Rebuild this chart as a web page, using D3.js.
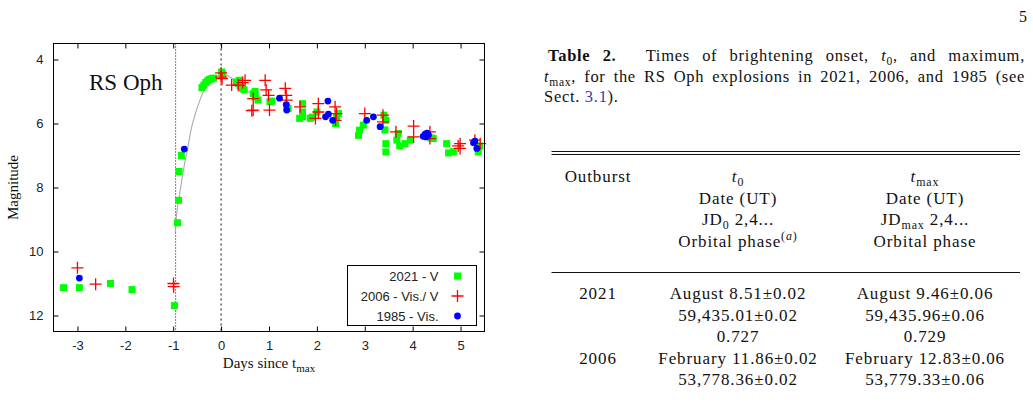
<!DOCTYPE html>
<html>
<head>
<meta charset="utf-8">
<script src="https://cdn.jsdelivr.net/npm/d3@7"></script>
<style>
  body { margin: 0; background: #fff; }
  svg { display: block; }
  .tick text { font-family: "Liberation Sans", Arial, sans-serif; font-size: 13px; fill: #222; }
  .sans { font-family: "Liberation Sans", Arial, sans-serif; }
  .serif { font-family: "Liberation Serif", "Times New Roman", serif; }
</style>
</head>
<body>
<svg id="page" width="1033" height="405"></svg>
<script>
// light curves: [days since t_max, magnitude]
const outburst2021 = [
  [-3.29, 11.13], [-2.96, 11.13], [-2.31, 11.0], [-1.86, 11.19], [-0.975, 11.69],
  [-0.91, 9.1], [-0.89, 8.4], [-0.88, 7.5], [-0.83, 7.0],
  [-0.4, 4.88], [-0.36, 4.8], [-0.32, 4.72], [-0.28, 4.66], [-0.24, 4.62], [-0.2, 4.6], [-0.16, 4.58],
  [0.01, 4.39], [0.03, 4.45],
  [0.32, 4.7], [0.36, 4.75], [0.38, 4.65], [0.4, 4.82], [0.44, 4.9], [0.48, 4.95],
  [0.67, 5.06], [0.71, 5.0], [0.71, 5.17], [0.77, 5.27],
  [1.02, 5.32], [1.06, 5.3], [1.37, 5.48], [1.4, 5.53],
  [1.7, 5.38], [1.7, 5.64], [1.64, 5.84], [1.7, 5.79], [1.86, 5.84], [1.9, 5.8], [2.0, 5.64],
  [2.41, 5.79], [2.39, 6.0], [2.45, 5.69],
  [2.87, 6.37], [2.89, 6.21], [2.97, 6.05],
  [3.4, 5.74], [3.44, 5.9], [3.42, 6.2], [3.44, 6.63], [3.44, 6.89],
  [3.67, 6.52], [3.7, 6.31], [3.73, 6.7], [3.84, 6.63], [3.95, 6.52],
  [4.38, 6.45], [4.43, 6.47],
  [4.71, 6.63], [4.75, 6.92], [4.85, 6.88],
  [5.37, 6.89], [5.4, 6.7]
];
const outburst2006 = [
  [-3.0, 10.51], [-2.62, 11.02], [-0.995, 11.0], [-0.99, 11.1],
  [0.0, 4.42], [0.0, 4.55], [0.02, 4.6],
  [0.22, 4.8], [0.36, 4.8], [0.45, 4.72], [0.5, 4.65],
  [0.67, 5.22], [0.67, 5.58], [0.64, 5.6],
  [0.92, 4.65], [0.94, 4.95], [0.99, 5.12], [1.01, 5.58],
  [1.34, 4.9], [1.36, 5.12], [1.37, 5.27],
  [1.65, 5.48],
  [2.03, 5.38], [2.03, 5.64], [1.97, 5.84],
  [2.38, 5.48], [2.41, 5.69], [2.39, 5.9],
  [3.0, 5.69], [3.38, 5.74], [3.38, 5.95], [3.65, 6.26],
  [4.02, 6.08], [4.02, 6.42], [4.36, 6.26], [4.36, 6.47],
  [4.95, 6.7], [4.99, 6.63], [4.99, 6.78], [5.3, 6.52], [5.41, 6.63]
];
const outburst1985 = [
  [-2.96, 10.83], [-0.77, 6.8],
  [1.22, 5.21], [1.36, 5.41], [1.37, 5.58],
  [2.23, 5.3], [2.24, 5.71], [2.18, 5.79], [2.33, 5.9],
  [3.04, 5.9], [3.18, 5.79], [3.32, 6.1],
  [4.22, 6.4], [4.26, 6.33], [4.3, 6.3], [4.28, 6.42], [4.33, 6.36],
  [5.27, 6.6], [5.3, 6.55], [5.34, 6.78]
];
// grey fit of the 2021 rise
const fitCurve = [
  [-0.955, 9.4], [-0.945, 9.13], [-0.88, 8.35], [-0.81, 7.67], [-0.75, 7.15], [-0.7, 6.8],
  [-0.63, 6.21], [-0.55, 5.75], [-0.45, 5.3], [-0.37, 5.0], [-0.28, 4.78], [-0.18, 4.6],
  [-0.08, 4.5], [0.0, 4.46], [0.1, 4.48], [0.2, 4.56], [0.3, 4.68], [0.4, 4.8],
  [0.5, 4.93], [0.6, 5.05], [0.7, 5.16], [0.78, 5.25]
];
const onsetDay = -0.95;
const maxDay = 0;
const dayTicks = [-3, -2, -1, 0, 1, 2, 3, 4, 5];
const magTicks = [4, 6, 8, 10, 12];
const legendLabels = ["2021 - V", "2006 - Vis./ V", "1985 - Vis."];

// table 2
const outburstYears = ["2021", "2006"];
const onsetDates = ["August 8.51±0.02", "February 11.86±0.02"];
const onsetJDs = ["59,435.01±0.02", "53,778.36±0.02"];
const onsetPhases = ["0.727"];
const maxDates = ["August 9.46±0.06", "February 12.83±0.06"];
const maxJDs = ["59,435.96±0.06", "53,779.33±0.06"];
const maxPhases = ["0.729"];

const svg = d3.select("#page");
svg.append("rect").attr("width", 1033).attr("height", 405).attr("fill", "#fff");

// ---------- chart ----------
const x = d3.scaleLinear().domain([-3.5, 5.5]).range([53.5, 484.5]);
const y = d3.scaleLinear().domain([3.5, 12.5]).range([43.5, 331.5]);
const plot = svg.append("g");

plot.append("line")
  .attr("x1", x(onsetDay)).attr("x2", x(onsetDay))
  .attr("y1", y(3.5)).attr("y2", y(12.5))
  .attr("stroke", "#000").attr("stroke-width", 1).attr("stroke-dasharray", "1,2");
plot.append("line")
  .attr("x1", x(maxDay)).attr("x2", x(maxDay))
  .attr("y1", y(3.5)).attr("y2", y(12.5))
  .attr("stroke", "#666").attr("stroke-width", 1.6).attr("stroke-dasharray", "2,3");

plot.append("path")
  .datum(fitCurve)
  .attr("d", d3.line().x(d => x(d[0])).y(d => y(d[1])).curve(d3.curveMonotoneX))
  .attr("fill", "none").attr("stroke", "#aaa").attr("stroke-width", 1.1);

plot.selectAll("rect.v2021")
  .data(outburst2021)
  .enter().append("rect")
  .attr("class", "v2021")
  .attr("x", d => x(d[0]) - 3.5).attr("y", d => y(d[1]) - 3.5)
  .attr("width", 7).attr("height", 7)
  .attr("fill", "#00ff00");

const plus = "M-6,0H6M0,-6V6";
plot.selectAll("path.v2006")
  .data(outburst2006)
  .enter().append("path")
  .attr("class", "v2006")
  .attr("d", plus)
  .attr("transform", d => `translate(${x(d[0])},${y(d[1])})`)
  .attr("stroke", "#ff0000").attr("stroke-width", 1.3).attr("fill", "none");

plot.selectAll("circle.v1985")
  .data(outburst1985)
  .enter().append("circle")
  .attr("class", "v1985")
  .attr("cx", d => x(d[0])).attr("cy", d => y(d[1]))
  .attr("r", 3.4)
  .attr("fill", "#0000ff");

// axes, ticks pointing inward on all four sides
const fmt = d => String(d);
svg.append("g")
  .attr("transform", `translate(0,${y(12.5)})`)
  .call(d3.axisBottom(x).tickValues(dayTicks).tickSizeInner(-5).tickSizeOuter(0).tickPadding(9).tickFormat(fmt))
  .call(g => g.select(".domain").remove());
svg.append("g")
  .attr("transform", `translate(0,${y(3.5)})`)
  .call(d3.axisTop(x).tickValues(dayTicks).tickSizeInner(-5).tickSizeOuter(0).tickFormat(""))
  .call(g => g.select(".domain").remove());
svg.append("g")
  .attr("transform", `translate(${x(-3.5)},0)`)
  .call(d3.axisLeft(y).tickValues(magTicks).tickSizeInner(-5).tickSizeOuter(0).tickPadding(10).tickFormat(fmt))
  .call(g => g.select(".domain").remove());
svg.append("g")
  .attr("transform", `translate(${x(5.5)},0)`)
  .call(d3.axisRight(y).tickValues(magTicks).tickSizeInner(-5).tickSizeOuter(0).tickFormat(""))
  .call(g => g.select(".domain").remove());
svg.selectAll(".tick line").attr("stroke", "#000");

svg.append("rect")
  .attr("x", x(-3.5)).attr("y", y(3.5))
  .attr("width", x(5.5) - x(-3.5)).attr("height", y(12.5) - y(3.5))
  .attr("fill", "none").attr("stroke", "#000").attr("stroke-width", 1);

svg.append("text").attr("class", "serif")
  .attr("x", 89).attr("y", 90)
  .attr("font-size", 23).attr("fill", "#111")
  .text("RS Oph");

const xlab = svg.append("text").attr("class", "serif")
  .attr("x", (x(-3.5) + x(5.5)) / 2).attr("y", 368)
  .attr("text-anchor", "middle").attr("font-size", 15).attr("fill", "#111");
xlab.append("tspan").text("Days since t");
xlab.append("tspan").attr("dy", 4).attr("font-size", 11).text("max");

svg.append("text").attr("class", "serif")
  .attr("transform", `translate(18,${(y(3.5) + y(12.5)) / 2}) rotate(-90)`)
  .attr("text-anchor", "middle").attr("font-size", 15).attr("fill", "#111")
  .text("Magnitude");

// legend
const legend = svg.append("g");
legend.append("rect")
  .attr("x", 347.5).attr("y", 265.5).attr("width", 129).attr("height", 60)
  .attr("fill", "#fff").attr("stroke", "#000");
const rowY = i => 276 + i * 20;
legend.selectAll("text")
  .data(legendLabels)
  .enter().append("text").attr("class", "sans")
  .attr("x", 438.5).attr("y", (d, i) => rowY(i) + 4.5)
  .attr("text-anchor", "end").attr("font-size", 13).attr("fill", "#222")
  .text(d => d);
legend.append("rect").attr("x", 457.5 - 3.5).attr("y", rowY(0) - 3.5).attr("width", 7).attr("height", 7).attr("fill", "#00ff00");
legend.append("path").attr("d", plus).attr("transform", `translate(457.5,${rowY(1)})`)
  .attr("stroke", "#ff0000").attr("stroke-width", 1.3);
legend.append("circle").attr("cx", 457.5).attr("cy", rowY(2)).attr("r", 3.4).attr("fill", "#0000ff");

// ---------- page number, caption and table ----------
svg.append("text").attr("class", "serif")
  .attr("x", 1027).attr("y", 21.5).attr("text-anchor", "end")
  .attr("font-size", 16).attr("fill", "#111").text("5");

// segments: [text, flags] with flags from b, i, sub, sup, link (space separated)
function rich(sel, segs, size) {
  let shift = 0;
  segs.forEach(([t, s]) => {
    const f = s.split(" ");
    const ts = sel.append("tspan").text(t);
    let target = 0;
    if (f.includes("b")) ts.attr("font-weight", "bold");
    if (f.includes("i")) ts.attr("font-style", "italic");
    if (f.includes("link")) ts.attr("fill", "#3b3ba8");
    if (f.includes("sub")) { target = size * 0.25; ts.attr("font-size", size * 0.7); }
    if (f.includes("sup")) { target = -size * 0.38; ts.attr("font-size", size * 0.7); }
    if (target !== shift) ts.attr("dy", target - shift);
    shift = target;
  });
  return sel;
}

function justify(sel, width) {
  const node = sel.node();
  const natural = node.getComputedTextLength();
  const spaces = (node.textContent.match(/ /g) || []).length;
  if (spaces && width > natural) sel.attr("word-spacing", (width - natural) / spaces);
}

const capSize = 16.5;
const caption = [
  [[["Table 2.", "b"], ["\u2003 Times of brightening onset, ", ""], ["t", "i"], ["0", "sub"], [", and maximum,", ""]], 548, 1025],
  [[["t", "i"], ["max", "sub"], [", for the RS Oph explosions in 2021, 2006, and 1985 (see", ""]], 544, 1025],
  [[["Sect. ", ""], ["3.1", "link"], [").", ""]], 544, null]
];
caption.forEach(([segs, x0, x1], i) => {
  const t = svg.append("text").attr("class", "serif")
    .attr("x", x0).attr("y", 61 + i * 20.5)
    .attr("font-size", capSize).attr("letter-spacing", 0.7).attr("fill", "#111");
  rich(t, segs, capSize);
  if (x1) justify(t, x1 - x0);
});

svg.append("line").attr("x1", 551.5).attr("x2", 1020).attr("y1", 151.5).attr("y2", 151.5).attr("stroke", "#111");
svg.append("line").attr("x1", 551.5).attr("x2", 1020).attr("y1", 154.5).attr("y2", 154.5).attr("stroke", "#111");
svg.append("line").attr("x1", 551.5).attr("x2", 1020).attr("y1", 272.5).attr("y2", 272.5).attr("stroke", "#111");

const tabSize = 17;
const colX = [598, 738, 925];
const headRows = [
  [[["Outburst", ""]], [["t", "i"], ["0", "sub"]], [["t", "i"], ["max", "sub"]]],
  [[], [["Date (UT)", ""]], [["Date (UT)", ""]]],
  [[], [["JD", ""], ["0", "sub"], [" 2,4...", ""]], [["JD", ""], ["max", "sub"], [" 2,4...", ""]]],
  [[], [["Orbital phase", ""], ["(", "sup"], ["a", "sup i"], [")", "sup"]], [["Orbital phase", ""]]]
];
function cell(segs, col, yPos) {
  const t = svg.append("text").attr("class", "serif")
    .attr("x", colX[col]).attr("y", yPos)
    .attr("text-anchor", "middle").attr("font-size", tabSize)
    .attr("letter-spacing", 0.9).attr("fill", "#111");
  rich(t, segs, tabSize);
  return t;
}
headRows.forEach((row, r) => row.forEach((segs, c) => {
  if (segs.length) cell(segs, c, 182 + r * 21.5);
}));

const bodyCols = [
  [outburstYears, onsetDates, maxDates],
  [[], onsetJDs, maxJDs],
  [[], onsetPhases, maxPhases]
];
let line = 0;
outburstYears.forEach((yr, k) => {
  bodyCols.forEach(cols => {
    const yPos = 299 + line * 21.5;
    let any = false;
    cols.forEach((vals, c) => {
      if (vals[k] !== undefined) { cell([[vals[k], ""]], c, yPos); any = true; }
    });
    if (any) line++;
  });
});
</script>
</body>
</html>
